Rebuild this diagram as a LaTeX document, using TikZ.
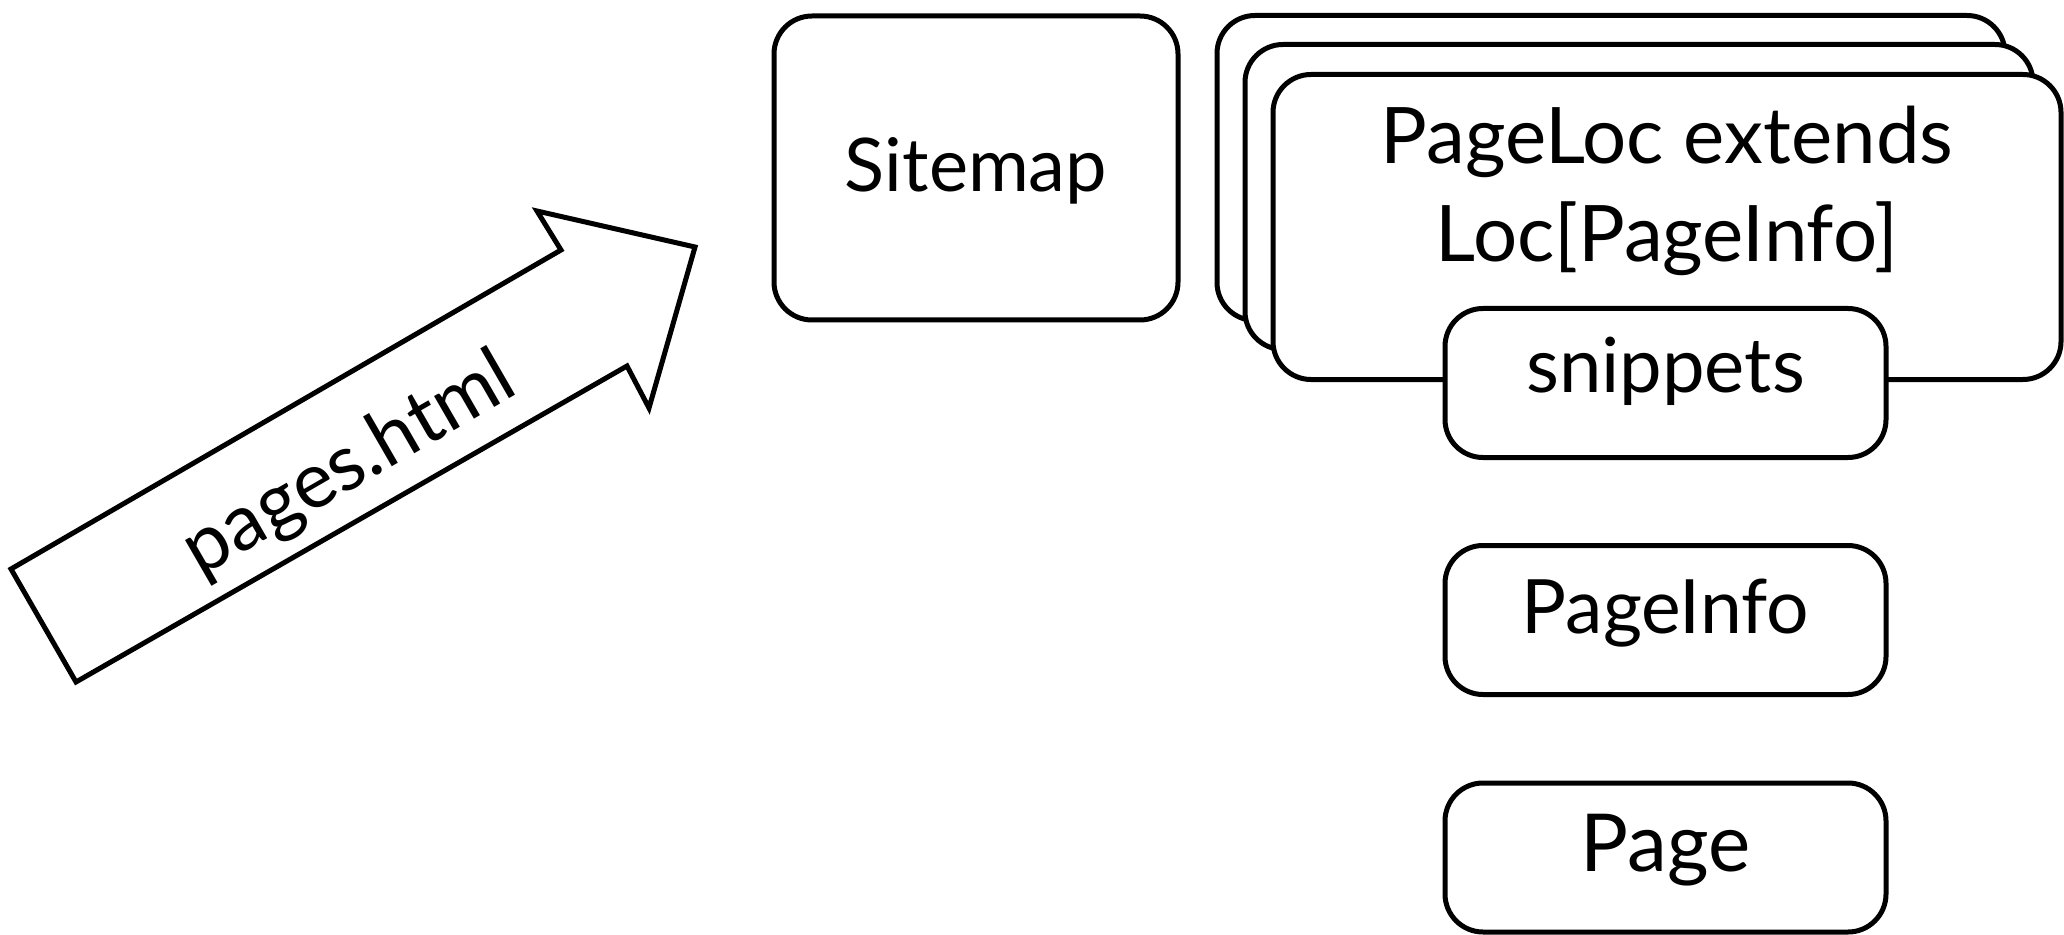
\documentclass[tikz,border=0pt]{standalone}
\usepackage{fontspec}
\setmainfont{Lato}
\begin{document}
\begin{tikzpicture}[x=0.5pt,y=-0.5pt,
  box/.style={draw=black,line width=2.5pt,fill=white,rounded corners=19pt,inner sep=0pt},
  big/.style={box,minimum width=394pt,minimum height=152.5pt},
  small/.style={box,minimum width=220.5pt,minimum height=74.5pt},
  txt/.style={inner sep=0pt,anchor=base,font=\fontsize{38}{46}\selectfont}]
\useasboundingbox (0,0) rectangle (2064,935);
\node[box,minimum width=202pt,minimum height=152pt] (sitemapbox) at (976,168) {};
\node[txt,font=\fontsize{37}{46}\selectfont] (sitemap) at (976,192) {Sitemap};
\node[big] (rear) at (1611,168) {};
\node[big] (mid) at (1639,197) {};
\node[big] (front) at (1667,227) {};
\node[txt,font=\fontsize{39}{46}\selectfont] (pageloc1) at (1667,164) {PageLoc extends};
\node[txt,font=\fontsize{39}{46}\selectfont] (pageloc2) at (1667,262) {Loc[PageInfo]};
\node[small] (snippetsbox) at (1665.5,383) {};
\node[txt] (snippets) at (1665.5,393) {snippets};
\node[small] (pageinfobox) at (1665.5,620) {};
\node[txt,font=\fontsize{37.5}{46}\selectfont] (pageinfo) at (1665.5,633) {PageInfo};
\node[small] (pagebox) at (1665.5,857.5) {};
\node[txt,font=\fontsize{40}{46}\selectfont] (page) at (1665.5,871) {Page};
\draw[line width=2.5pt,line join=miter,fill=white]
  (76,682) -- (11,569) -- (561,250) -- (537,211) -- (695,247) -- (649,408) -- (627,366) -- cycle;
\node[inner sep=0pt,rotate=30,font=\fontsize{39}{46}\selectfont] (pages) at (350,466) {pages.html};
\end{tikzpicture}
\end{document}
